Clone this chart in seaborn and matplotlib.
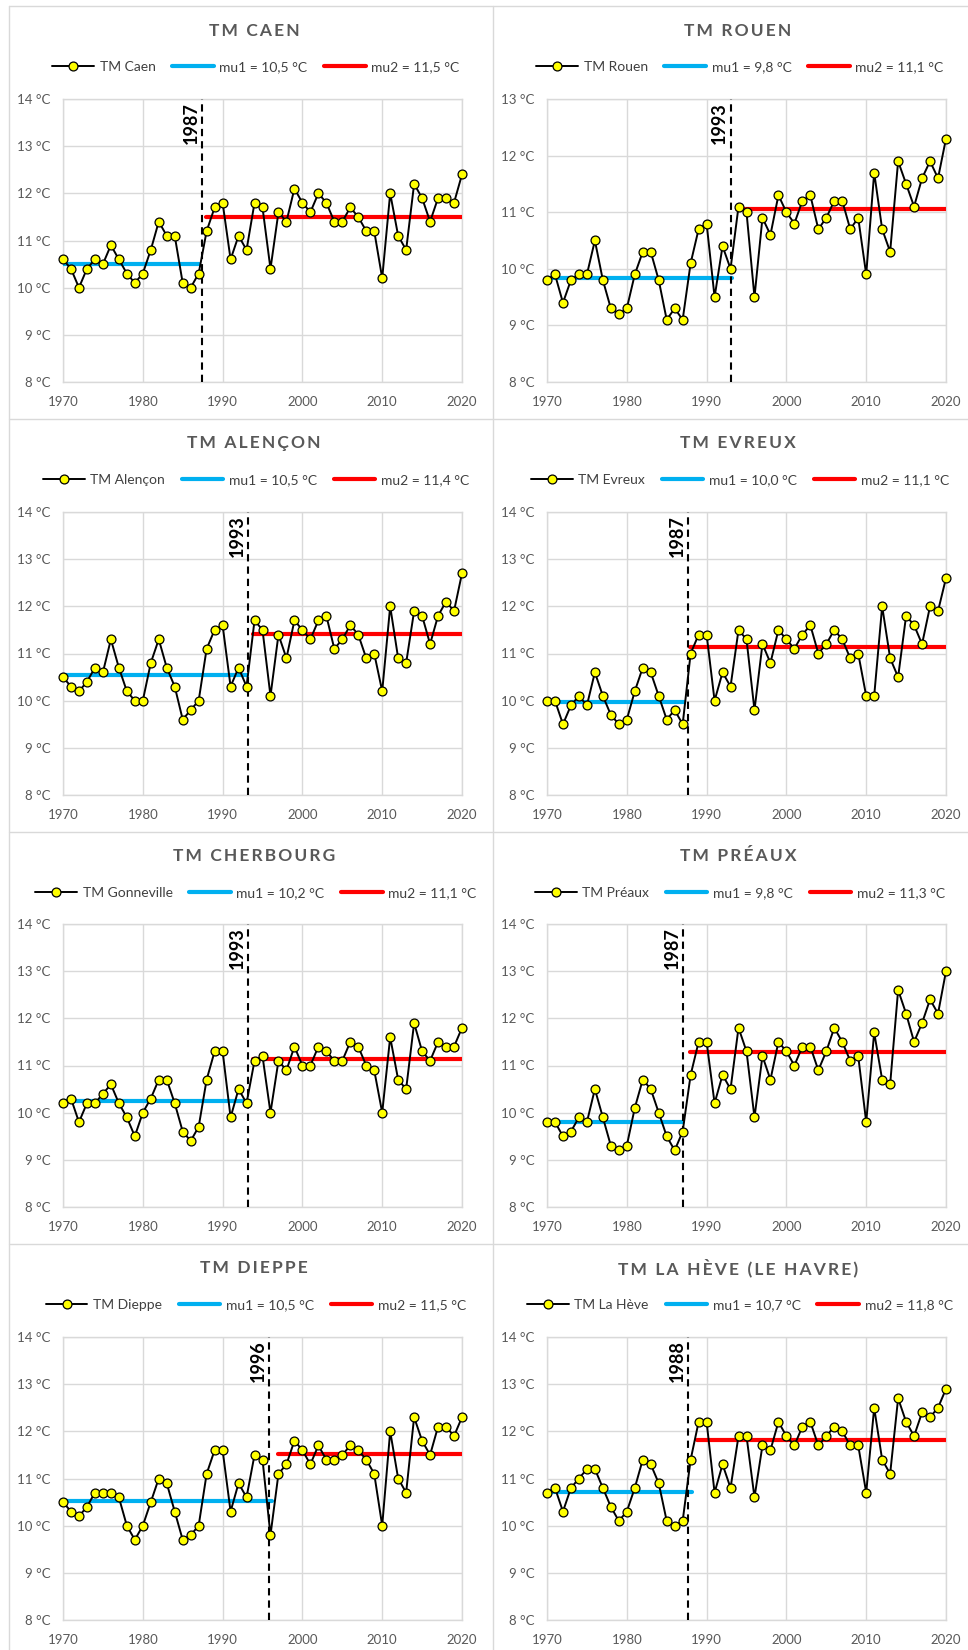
import matplotlib
matplotlib.use("Agg")
import matplotlib.pyplot as plt
import seaborn as sns
from matplotlib.lines import Line2D

# Années (axe des x)
annees = list(range(1970, 2021))

# Températures moyennes annuelles
tm_caen = [10.6, 10.4, 10.0, 10.4, 10.6, 10.5, 10.9, 10.6, 10.3, 10.1,
           10.3, 10.8, 11.4, 11.1, 11.1, 10.1, 10.0, 10.3, 11.2, 11.7,
           11.8, 10.6, 11.1, 10.8, 11.8, 11.7, 10.4, 11.6, 11.4, 12.1,
           11.8, 11.6, 12.0, 11.8, 11.4, 11.4, 11.7, 11.5, 11.2, 11.2,
           10.2, 12.0, 11.1, 10.8, 12.2, 11.9, 11.4, 11.9, 11.9, 11.8, 12.4]
tm_rouen = [9.8, 9.9, 9.4, 9.8, 9.9, 9.9, 10.5, 9.8, 9.3, 9.2,
            9.3, 9.9, 10.3, 10.3, 9.8, 9.1, 9.3, 9.1, 10.1, 10.7,
            10.8, 9.5, 10.4, 10.0, 11.1, 11.0, 9.5, 10.9, 10.6, 11.3,
            11.0, 10.8, 11.2, 11.3, 10.7, 10.9, 11.2, 11.2, 10.7, 10.9,
            9.9, 11.7, 10.7, 10.3, 11.9, 11.5, 11.1, 11.6, 11.9, 11.6, 12.3]
tm_alencon = [10.5, 10.3, 10.2, 10.4, 10.7, 10.6, 11.3, 10.7, 10.2, 10.0,
              10.0, 10.8, 11.3, 10.7, 10.3, 9.6, 9.8, 10.0, 11.1, 11.5,
              11.6, 10.3, 10.7, 10.3, 11.7, 11.5, 10.1, 11.4, 10.9, 11.7,
              11.5, 11.3, 11.7, 11.8, 11.1, 11.3, 11.6, 11.4, 10.9, 11.0,
              10.2, 12.0, 10.9, 10.8, 11.9, 11.8, 11.2, 11.8, 12.1, 11.9, 12.7]
tm_evreux = [10.0, 10.0, 9.5, 9.9, 10.1, 9.9, 10.6, 10.1, 9.7, 9.5,
             9.6, 10.2, 10.7, 10.6, 10.1, 9.6, 9.8, 9.5, 11.0, 11.4,
             11.4, 10.0, 10.6, 10.3, 11.5, 11.3, 9.8, 11.2, 10.8, 11.5,
             11.3, 11.1, 11.4, 11.6, 11.0, 11.2, 11.5, 11.3, 10.9, 11.0,
             10.1, 10.1, 12.0, 10.9, 10.5, 11.8, 11.6, 11.2, 12.0, 11.9, 12.6]
tm_gonneville = [10.2, 10.3, 9.8, 10.2, 10.2, 10.4, 10.6, 10.2, 9.9, 9.5,
                 10.0, 10.3, 10.7, 10.7, 10.2, 9.6, 9.4, 9.7, 10.7, 11.3,
                 11.3, 9.9, 10.5, 10.2, 11.1, 11.2, 10.0, 11.1, 10.9, 11.4,
                 11.0, 11.0, 11.4, 11.3, 11.1, 11.1, 11.5, 11.4, 11.0, 10.9,
                 10.0, 11.6, 10.7, 10.5, 11.9, 11.3, 11.1, 11.5, 11.4, 11.4, 11.8]
tm_preaux = [9.8, 9.8, 9.5, 9.6, 9.9, 9.8, 10.5, 9.9, 9.3, 9.2,
             9.3, 10.1, 10.7, 10.5, 10.0, 9.5, 9.2, 9.6, 10.8, 11.5,
             11.5, 10.2, 10.8, 10.5, 11.8, 11.3, 9.9, 11.2, 10.7, 11.5,
             11.3, 11.0, 11.4, 11.4, 10.9, 11.3, 11.8, 11.5, 11.1, 11.2,
             9.8, 11.7, 10.7, 10.6, 12.6, 12.1, 11.5, 11.9, 12.4, 12.1, 13.0]
tm_dieppe = [10.5, 10.3, 10.2, 10.4, 10.7, 10.7, 10.7, 10.6, 10.0, 9.7,
             10.0, 10.5, 11.0, 10.9, 10.3, 9.7, 9.8, 10.0, 11.1, 11.6,
             11.6, 10.3, 10.9, 10.6, 11.5, 11.4, 9.8, 11.1, 11.3, 11.8,
             11.6, 11.3, 11.7, 11.4, 11.4, 11.5, 11.7, 11.6, 11.4, 11.1,
             10.0, 12.0, 11.0, 10.7, 12.3, 11.8, 11.5, 12.1, 12.1, 11.9, 12.3]
tm_la_heve = [10.7, 10.8, 10.3, 10.8, 11.0, 11.2, 11.2, 10.8, 10.4, 10.1,
              10.3, 10.8, 11.4, 11.3, 10.9, 10.1, 10.0, 10.1, 11.4, 12.2,
              12.2, 10.7, 11.3, 10.8, 11.9, 11.9, 10.6, 11.7, 11.6, 12.2,
              11.9, 11.7, 12.1, 12.2, 11.7, 11.9, 12.1, 12.0, 11.7, 11.7,
              10.7, 12.5, 11.4, 11.1, 12.7, 12.2, 11.9, 12.4, 12.3, 12.5, 12.9]

series = [tm_caen, tm_rouen, tm_alencon, tm_evreux,
          tm_gonneville, tm_preaux, tm_dieppe, tm_la_heve]
titres = ["TM CAEN", "TM ROUEN", "TM ALENÇON", "TM EVREUX",
          "TM CHERBOURG", "TM PRÉAUX", "TM DIEPPE", "TM LA HÈVE (LE HAVRE)"]
noms = ["TM Caen", "TM Rouen", "TM Alençon", "TM Evreux",
        "TM Gonneville", "TM Préaux", "TM Dieppe", "TM La Hève"]

# Moyennes avant / après la rupture
mu1 = [10.51, 9.84, 10.54, 9.97, 10.24, 9.80, 10.53, 10.71]
mu2 = [11.49, 11.06, 11.42, 11.13, 11.13, 11.29, 11.52, 11.82]
annee_rupture = [1987, 1993, 1993, 1987, 1993, 1987, 1996, 1988]
x_rupture = [1987.4, 1993.0, 1993.2, 1987.7, 1993.2, 1987.1, 1995.8, 1987.7]
fin_mu1 = [1987.1, 1993.2, 1993.1, 1987.15, 1993.4, 1987.1, 1996.15, 1988.2]
debut_mu2 = [1987.9, 1993.85, 1993.85, 1987.9, 1993.85, 1987.9, 1997.0, 1988.8]
y_max = [14, 13, 14, 14, 14, 14, 14, 14]

sns.set_theme(style="whitegrid")
plt.rcParams['font.family'] = ['Lato', 'DejaVu Sans']

W, H = 968, 1650
fig = plt.figure(figsize=(W / 100, H / 100), dpi=100)
fig.patch.set_facecolor("white")

# Positions (pixels) des zones de tracé, titres et légendes
haut_axes = [99, 512, 924, 1337]
y_titre = [31, 443, 856, 1268]
y_legende = [67, 480, 893, 1305]
bords_h = [6, 419, 832, 1244]

# Cadres gris des panneaux
for y in bords_h:
    fig.add_artist(Line2D([9 / W, 1], [1 - y / H] * 2, color="#D9D9D9", lw=1))
for x in [9, 493]:
    fig.add_artist(Line2D([x / W] * 2, [0, 1 - 6 / H], color="#D9D9D9", lw=1))

for i in range(8):
    ligne, col = i // 2, i % 2
    dx = col * 484
    ax = fig.add_axes([(63 + dx) / W, 1 - (haut_axes[ligne] + 283) / H, 399 / W, 283 / H])

    sns.lineplot(x=annees, y=series[i], ax=ax, color="black", linewidth=1.4,
                 marker="o", markersize=6.4, markerfacecolor="#FFFF00",
                 markeredgecolor="black", markeredgewidth=0.9,
                 label=noms[i], clip_on=False, zorder=5)
    ax.plot([1970, fin_mu1[i]], [mu1[i], mu1[i]], color="#00B0F0", lw=3, zorder=3,
            label=f"mu1 = {mu1[i]:.1f} °C".replace(".", ","))
    ax.plot([debut_mu2[i], 2020], [mu2[i], mu2[i]], color="#FF0000", lw=3, zorder=3,
            label=f"mu2 = {mu2[i]:.1f} °C".replace(".", ","))

    # Ligne de rupture
    ax.axvline(x_rupture[i], color="black", lw=1.5, ls=(0, (3.5, 2.4)), zorder=4)
    ax.text(x_rupture[i] - 0.3, y_max[i] - 0.06, str(annee_rupture[i]), rotation=90,
            ha="right", va="top", fontsize=13, fontweight="bold", color="black")

    ax.set_xlim(1970, 2020)
    ax.set_ylim(8, y_max[i])
    ax.set_xticks(range(1970, 2021, 10))
    ax.set_yticks(range(8, y_max[i] + 1))
    ax.set_yticklabels([f"{v} °C" for v in range(8, y_max[i] + 1)])
    ax.set_xlabel("")
    ax.set_ylabel("")
    ax.grid(True, color="#D9D9D9", lw=1)
    ax.set_facecolor("white")
    for s in ax.spines.values():
        s.set_color("#D9D9D9")
        s.set_linewidth(1)
    ax.tick_params(axis="both", length=0, labelsize=9.5, labelcolor="#595959")
    ax.tick_params(axis="y", pad=9)
    ax.tick_params(axis="x", pad=10)

    ax.legend(loc="center", bbox_to_anchor=((dx + 256) / W, 1 - y_legende[ligne] / H),
              bbox_transform=fig.transFigure, ncol=3, frameon=False, fontsize=10,
              handlelength=3.0, handletextpad=0.4, columnspacing=1.2, labelcolor="#404040")

    titre = "\u2009".join(titres[i])
    fig.text((dx + 254) / W, 1 - y_titre[ligne] / H, titre, ha="center", va="center",
             fontsize=12.5, fontweight="bold", color="#595959")

plt.savefig("out.png", dpi=100)
